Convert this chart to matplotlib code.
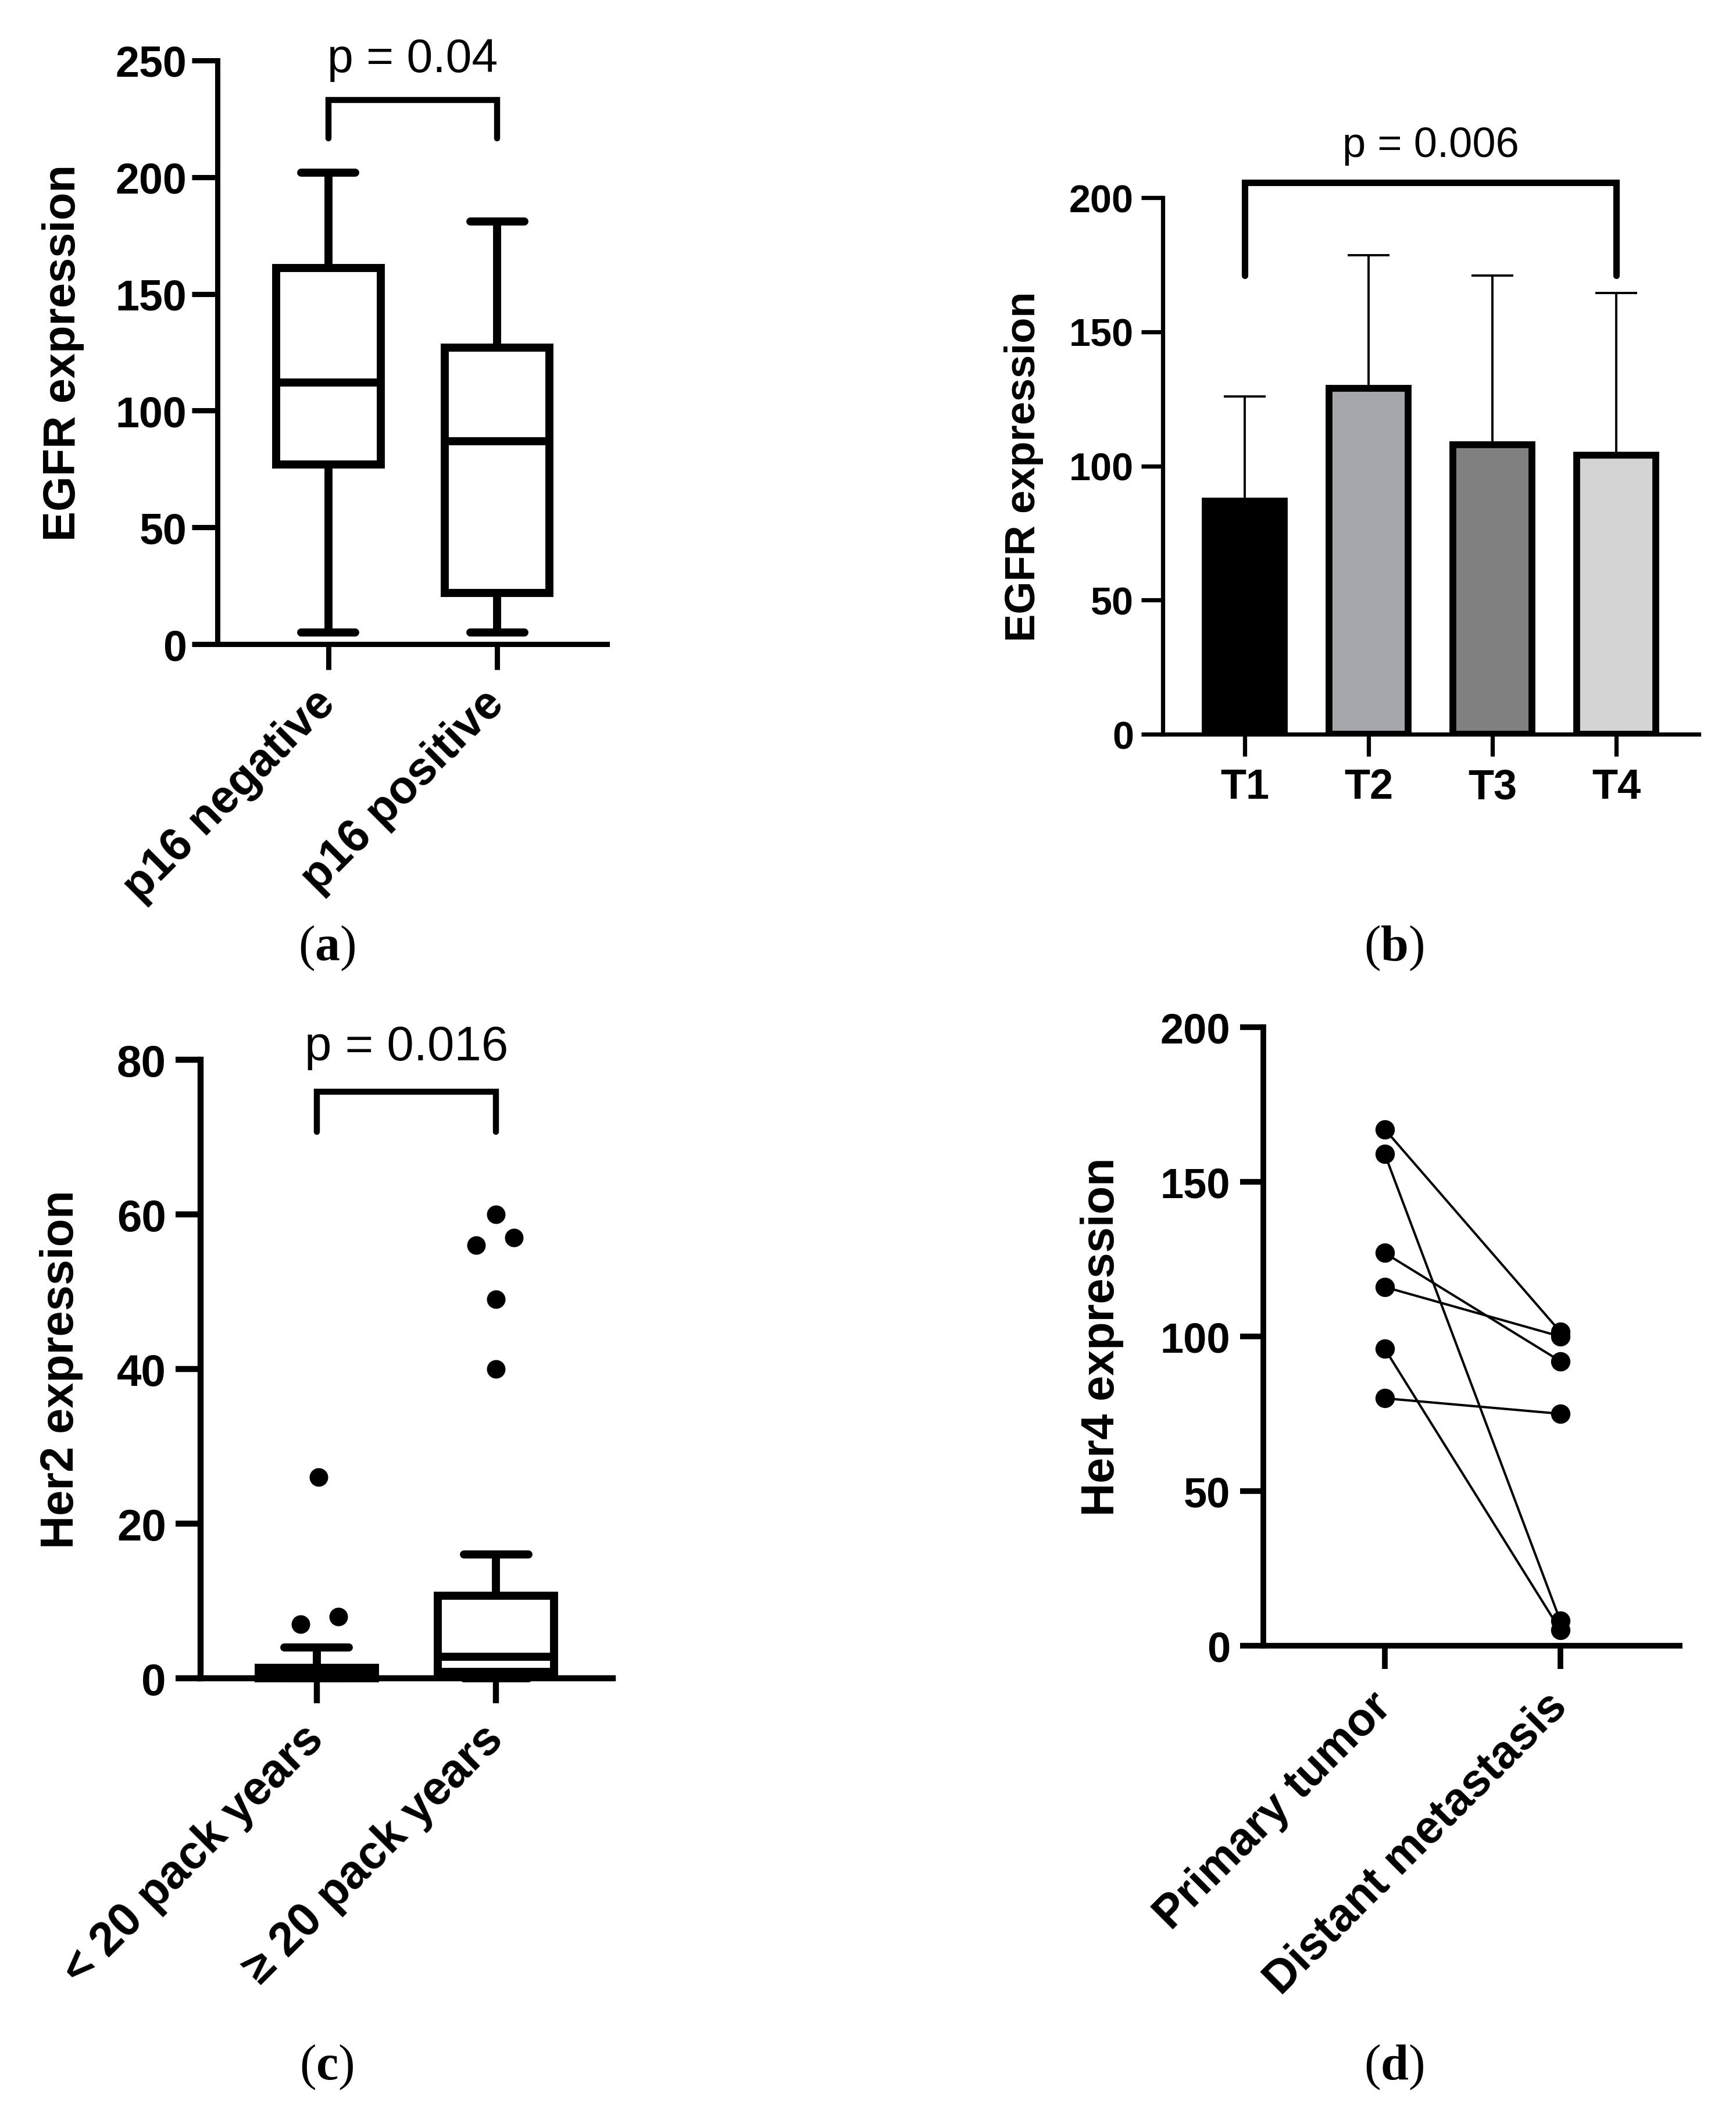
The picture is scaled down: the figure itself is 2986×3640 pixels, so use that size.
import matplotlib
matplotlib.use("Agg")
import matplotlib.pyplot as plt

plt.rcParams["font.family"] = ["Liberation Sans", "DejaVu Sans"]
plt.rcParams["mathtext.fontset"] = "custom"
plt.rcParams["mathtext.rm"] = "Liberation Serif"
plt.rcParams["mathtext.bf"] = "Liberation Serif:bold"

# (a) EGFR expression by p16 status (box plot summaries)
p16_groups = ["p16 negative", "p16 positive"]
p16_whislo = [5, 5]
p16_q1 = [77, 22]
p16_med = [112, 87]
p16_q3 = [161, 127]
p16_whishi = [202, 181]

# (b) EGFR expression by T stage (mean + SD)
t_stages = ["T1", "T2", "T3", "T4"]
t_mean = [87, 129, 108, 104]
t_sd = [39, 49.5, 63, 60.5]
t_colors = ["#000000", "#A5A6AA", "#808080", "#D4D4D4"]

# (c) Her2 expression by pack years (Tukey box plot)
pack_groups = ["< 20 pack years", "\u2265 20 pack years"]
pack_whislo = [0, 0]
pack_q1 = [0, 0.8]
pack_med = [0.55, 2.8]
pack_q3 = [1.35, 10.7]
pack_whishi = [4, 16]
pack_outliers = [[26, 7, 8], [60, 56, 57, 49, 40]]

# (d) Her4 expression, paired primary vs metastasis
paired_groups = ["Primary tumor", "Distant metastasis"]
her4_primary = [167, 159, 127, 116, 96, 80]
her4_metastasis = [101.5, 8, 92, 100, 5, 75]


def style_axes(ax, spine_lw, ticklen, ysize, xsize, ypad, xpad, rot):
    for s in ["top", "right"]:
        ax.spines[s].set_visible(False)
    for s in ["left", "bottom"]:
        ax.spines[s].set_linewidth(spine_lw)
    ax.tick_params(width=spine_lw, length=ticklen, color="k")
    ax.tick_params(axis="y", labelsize=ysize, pad=ypad)
    ax.tick_params(axis="x", labelsize=xsize, pad=xpad)
    for lbl in ax.get_yticklabels():
        lbl.set_fontweight("bold")
    for lbl in ax.get_xticklabels():
        lbl.set_fontweight("bold")
        if rot:
            lbl.set_rotation(45)
            lbl.set_ha("right")
            lbl.set_va("center")
            lbl.set_rotation_mode("anchor")


def bracket(ax, x0, x1, y_low, y_top, lw, text, text_y, size):
    ax.plot([x0, x0, x1, x1], [y_low, y_top, y_top, y_low], color="k", lw=lw,
            clip_on=False, solid_joinstyle="miter", solid_capstyle="round")
    ax.text((x0 + x1) / 2, text_y, text, ha="center", va="baseline",
            fontsize=size, clip_on=False)


def boxes(ax, whislo, q1, med, q3, whishi, width, capwidth, lw):
    stats = []
    for i in range(len(med)):
        stats.append(dict(whislo=whislo[i], q1=q1[i], med=med[i], q3=q3[i],
                          whishi=whishi[i], fliers=[]))
    art = ax.bxp(stats, positions=range(len(med)), widths=width,
                 capwidths=capwidth, showfliers=False,
                 boxprops=dict(color="k", lw=lw, solid_joinstyle="miter",
                               solid_capstyle="projecting"),
                 medianprops=dict(color="k", lw=lw, solid_capstyle="butt"),
                 whiskerprops=dict(color="k", lw=lw, solid_capstyle="butt"),
                 capprops=dict(color="k", lw=lw, solid_capstyle="round"))
    for lines in art.values():
        for ln in lines:
            ln.set_clip_on(False)


fig = plt.figure(figsize=(29.86, 36.41), dpi=100)

# ---- (a)
ax = fig.add_axes([0.1253, 0.6954, 0.2244, 0.2758])
boxes(ax, p16_whislo, p16_q1, p16_med, p16_q3, p16_whishi, 0.62, 0.32, 10)
ax.set_xlim(-0.656, 1.65)
ax.set_ylim(0, 250)
ax.set_yticks(range(0, 251, 50))
ax.set_xticks(range(len(p16_groups)))
ax.set_xticklabels(p16_groups)
style_axes(ax, 6.5, 32, 53, 57, 6, 33, True)
ax.set_ylabel("EGFR expression", fontsize=56, fontweight="bold", va="center")
ax.yaxis.set_label_coords(-0.396, 0.5)
bracket(ax, 0, 1, 216.5, 233, 7.5, "p = 0.04", 245.3, 58)

# ---- (b)
ax = fig.add_axes([0.6698, 0.6528, 0.3088, 0.2535])
xb = range(len(t_stages))
ax.errorbar(xb, t_mean, yerr=[[0] * len(t_sd), t_sd], fmt="none", ecolor="k",
            elinewidth=2.8, capsize=26, capthick=2.8, zorder=2)
ax.bar(xb, t_mean, width=0.64, color=t_colors, edgecolor="k", linewidth=8.5,
       zorder=3)
ax.set_xlim(-0.662, 3.667)
ax.set_ylim(0, 200)
ax.set_yticks(range(0, 201, 50))
ax.set_xticks(list(xb))
ax.set_xticklabels(t_stages)
style_axes(ax, 5.2, 27, 48, 52, 9, 14, False)
ax.set_ylabel("EGFR expression", fontsize=52, fontweight="bold", va="center")
ax.yaxis.set_label_coords(-0.259, 0.5)
bracket(ax, 0, 3, 171, 205.6, 8, "p = 0.006", 215.4, 52)

# ---- (c)
ax = fig.add_axes([0.1157, 0.2068, 0.2373, 0.2922])
boxes(ax, pack_whislo, pack_q1, pack_med, pack_q3, pack_whishi, 0.65, 0.36, 10)
out_jitter = [[0.01, -0.09, 0.12], [0, -0.11, 0.10, 0, 0]]
for i, vals in enumerate(pack_outliers):
    ax.plot([i + j for j in out_jitter[i]], vals, "o", color="k", ms=22,
            clip_on=False, zorder=4)
ax.set_xlim(-0.647, 1.652)
ax.set_ylim(0, 80)
ax.set_yticks(range(0, 81, 20))
ax.set_xticks(range(len(pack_groups)))
ax.set_xticklabels(pack_groups)
style_axes(ax, 7.5, 31, 55, 58, 12, 36, True)
ax.set_ylabel("Her2 expression", fontsize=57, fontweight="bold", va="center")
ax.yaxis.set_label_coords(-0.338, 0.5)
bracket(ax, 0, 1, 70.7, 75.9, 7.5, "p = 0.016", 80.0, 60)

# ---- (d)
ax = fig.add_axes([0.7277, 0.2222, 0.2398, 0.2922])
for a, b in zip(her4_primary, her4_metastasis):
    ax.plot([0, 1], [a, b], "-o", color="k", lw=2.9, ms=23, clip_on=False)
ax.set_xlim(-0.692, 1.679)
ax.set_ylim(0, 200)
ax.set_yticks(range(0, 201, 50))
ax.set_xticks(range(len(paired_groups)))
ax.set_xticklabels(paired_groups)
style_axes(ax, 7, 29, 52, 57, 12, 38, True)
ax.set_ylabel("Her4 expression", fontsize=57, fontweight="bold", va="center")
ax.yaxis.set_label_coords(-0.388, 0.5)

# panel captions
for x, y, letter in [(0.1882, 0.5520, "a"), (0.8031, 0.5520, "b"),
                     (0.1882, 0.0233, "c"), (0.8031, 0.0233, "d")]:
    fig.text(x, y, r"$\mathrm{(}\mathbf{" + letter + r"}\mathrm{)}$",
             ha="center", va="center", fontsize=62)

fig.savefig("out.png", dpi=100)
